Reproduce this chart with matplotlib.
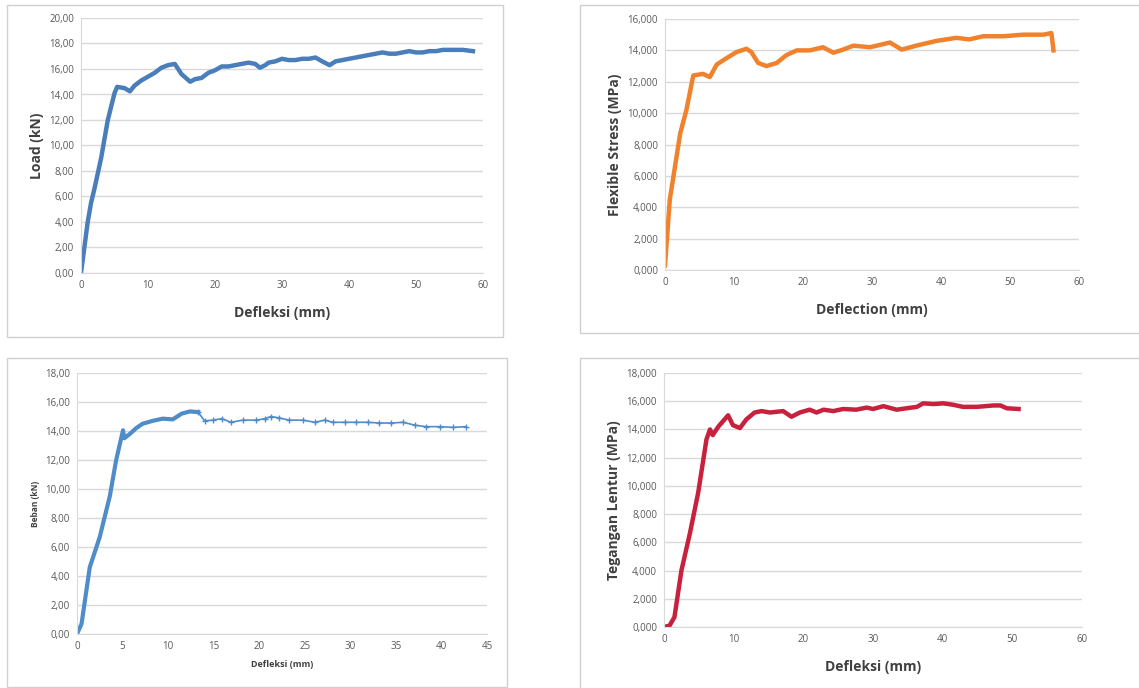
import matplotlib
matplotlib.use("Agg")
import matplotlib.pyplot as plt
from matplotlib.patches import Rectangle

# panel 1: Load vs Defleksi
x1 = [0, 0.5, 1, 1.5, 2, 3, 4, 5, 5.4, 6.5, 7.3, 8, 9, 10, 11, 12, 13, 14, 15, 16.3, 17, 18, 19, 20, 21,
      22, 23, 24, 25, 26, 26.7, 27.5, 28, 29, 30, 31, 32, 33, 34, 35, 36, 37.1, 38, 39, 40, 41, 42, 43,
      44, 45, 46, 47, 48, 49, 50, 51, 52, 53, 54, 55, 56, 57, 58.5]
y1 = [0, 2, 4, 5.5, 6.6, 9, 12, 14.1, 14.6, 14.5, 14.25, 14.7, 15.1, 15.4, 15.7, 16.1, 16.3, 16.4, 15.6,
      15.0, 15.2, 15.3, 15.7, 15.9, 16.2, 16.2, 16.3, 16.4, 16.5, 16.4, 16.1, 16.3, 16.5, 16.6, 16.8,
      16.7, 16.7, 16.8, 16.8, 16.9, 16.6, 16.3, 16.6, 16.7, 16.8, 16.9, 17.0, 17.1, 17.2, 17.3, 17.2,
      17.2, 17.3, 17.4, 17.3, 17.3, 17.4, 17.4, 17.5, 17.5, 17.5, 17.5, 17.4]

# panel 2: Flexible stress vs Deflection
x2 = [0, 0.7, 2.2, 3.1, 4.1, 5.5, 6.5, 7.5, 8.9, 10.4, 11.8, 12.5, 13.5, 14.7, 16.2, 17.6, 19.1, 21,
      22.9, 24.4, 25.8, 27.3, 29.7, 32.6, 34.3, 36.4, 39.3, 42.2, 44.1, 46.1, 49, 51.9, 54.8, 56, 56.3]
y2 = [0.3, 4.5, 8.7, 10.2, 12.4, 12.5, 12.3, 13.1, 13.5, 13.9, 14.1, 13.9, 13.2, 13.0, 13.2, 13.7, 14.0,
      14.0, 14.2, 13.85, 14.05, 14.3, 14.2, 14.5, 14.05, 14.3, 14.6, 14.8, 14.7, 14.9, 14.9, 15.0,
      15.0, 15.1, 14.0]

# panel 3: Beban vs Defleksi
x3 = [0, 0.5, 1.4, 2.5, 3.6, 4.3, 5.05, 5.2, 5.8, 6.5, 7.2, 8.3, 9.4, 10.5, 11.5, 12.4, 13.3, 14.0,
      14.9, 15.9, 16.9, 18.2, 19.7, 20.6, 21.3, 22.2, 23.3, 24.8, 26.1, 27.2, 28.1, 29.4, 30.6, 31.9,
      33.2, 34.5, 35.8, 37.1, 38.3, 39.8, 41.3, 42.7]
y3 = [0, 0.7, 4.6, 6.7, 9.5, 12.0, 14.05, 13.5, 13.8, 14.2, 14.5, 14.7, 14.85, 14.8, 15.2, 15.35, 15.3,
      14.7, 14.75, 14.85, 14.6, 14.75, 14.75, 14.85, 15.0, 14.9, 14.75, 14.75, 14.6, 14.75, 14.6, 14.6,
      14.6, 14.6, 14.55, 14.55, 14.6, 14.4, 14.3, 14.3, 14.25, 14.3]

# panel 4: Tegangan Lentur vs Defleksi
x4 = [0, 0.8, 1.5, 2.5, 3.7, 4.9, 6.1, 6.6, 7.0, 7.8, 9.2, 9.9, 10.9, 11.8, 13.0, 14.0, 15.2, 17.1,
      18.3, 19.5, 20.9, 21.9, 22.9, 24.3, 25.7, 27.6, 29.1, 30.0, 31.5, 33.4, 34.8, 36.3, 37.2, 38.7,
      40.1, 41.5, 42.9, 44.9, 47.3, 48.3, 49.2, 50.9]
y4 = [0, 0.1, 0.7, 4.0, 6.6, 9.5, 13.3, 14.0, 13.6, 14.2, 15.0, 14.3, 14.1, 14.7, 15.2, 15.3, 15.2,
      15.3, 14.9, 15.2, 15.4, 15.2, 15.4, 15.3, 15.45, 15.4, 15.55, 15.45, 15.65, 15.4, 15.5, 15.6,
      15.85, 15.8, 15.85, 15.75, 15.6, 15.6, 15.7, 15.7, 15.5, 15.45]

W, H = 1139, 688
fig = plt.figure(figsize=(W / 100, H / 100), dpi=100)
plt.rcParams['font.family'] = ['Open Sans', 'DejaVu Sans']

def box(x0, y0, x1_, y1_):
    fig.patches.append(Rectangle((x0 / W, 1 - y1_ / H), (x1_ - x0) / W, (y1_ - y0) / H,
                                 transform=fig.transFigure, fill=False, ec='#d0d0d0', lw=1))

def axes(l, t, r, b):
    return fig.add_axes([l / W, 1 - b / H, (r - l) / W, (b - t) / H])

def style(ax, xmax, xstep, ymax, ystep, fmt, tsize=7):
    ax.set_xlim(0, xmax)
    ax.set_ylim(0, ymax)
    ax.set_xticks(range(0, xmax + 1, xstep))
    yt = [ystep * i for i in range(int(round(ymax / ystep)) + 1)]
    ax.set_yticks(yt)
    ax.set_yticklabels([fmt.format(v).replace('.', ',') for v in yt])
    ax.grid(axis='y', color='#d9d9d9', lw=1)
    ax.set_axisbelow(True)
    for s in ['top', 'right']:
        ax.spines[s].set_visible(False)
    ax.spines['left'].set_color('#d9d9d9')
    ax.spines['bottom'].set_color('#d9d9d9')
    ax.tick_params(length=0, labelsize=tsize, colors='#595959', pad=5)

box(7, 5, 503, 337)
box(580, 5, 1145, 333)
box(7, 358, 507, 687)
box(580, 358, 1145, 695)

lab = dict(fontsize=10, fontweight='bold', color='#404040')

ax1 = axes(81, 18, 483, 273)
ax1.plot(x1, y1, color='#4a7ebb', lw=3.2)
style(ax1, 60, 10, 20, 2, '{:.2f}')
ax1.set_xlabel('Defleksi (mm)', labelpad=11, **lab)
ax1.set_ylabel('Load (kN)', **lab)

ax2 = axes(665, 19, 1079, 270)
ax2.plot(x2, y2, color='#f0822d', lw=3.2)
style(ax2, 60, 10, 16, 2, '{:.3f}')
ax2.set_xlabel('Deflection (mm)', labelpad=11, **lab)
ax2.set_ylabel('Flexible Stress (MPa)', **lab)

ax3 = axes(77, 373, 487, 634)
ax3.plot(x3[:17], y3[:17], color='#4f8dc9', lw=3)
ax3.plot(x3[16:], y3[16:], color='#4f8dc9', lw=1.2, marker='+', ms=4, mew=1)
style(ax3, 45, 5, 18, 2, '{:.2f}')
ax3.set_xlabel('Defleksi (mm)', fontsize=6.5, fontweight='bold', color='#404040', labelpad=6)
ax3.set_ylabel('Beban (kN)', fontsize=6, fontweight='bold', color='#404040')

ax4 = axes(664, 373, 1082, 627)
ax4.plot(x4, y4, color='#c8213d', lw=3.2)
style(ax4, 60, 10, 18, 2, '{:.3f}')
ax4.set_xlabel('Defleksi (mm)', labelpad=11, **lab)
ax4.set_ylabel('Tegangan Lentur (MPa)', **lab)

fig.savefig('out.png', dpi=100)
